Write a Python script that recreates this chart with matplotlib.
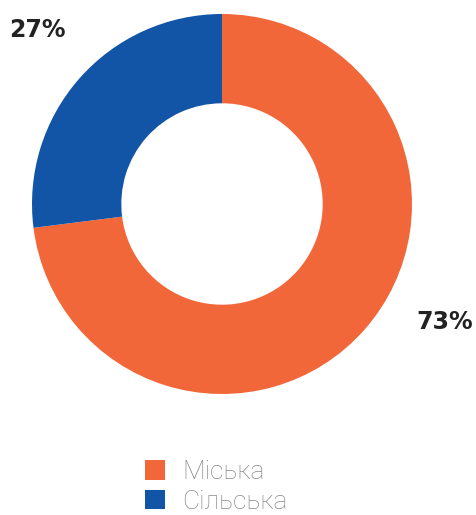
import matplotlib.pyplot as plt
from matplotlib.patches import Patch

labels = ["Міська", "Сільська"]
values = [73, 27]
colors = ["#F26739", "#1254A5"]

fig = plt.figure(figsize=(4.77, 5.15), dpi=100)
# axes placed so the ring sits where it is in the original
ax = fig.add_axes([32 / 477, 1 - 394 / 515, 380 / 477, 380 / 515])
ax.pie(values, colors=colors, startangle=90, counterclock=False,
       radius=1.0, wedgeprops=dict(width=0.47, edgecolor="none"))
ax.set_xlim(-1, 1)
ax.set_ylim(-1, 1)
ax.set_aspect("equal")
ax.axis("off")

# percent labels
ax.text(-0.97, 0.915, f"{values[1]}%", ha="center", va="center",
        fontsize=17, fontweight="bold", color="#222222", clip_on=False)
ax.text(1.17, -0.62, f"{values[0]}%", ha="center", va="center",
        fontsize=17, fontweight="bold", color="#222222", clip_on=False)

handles = [Patch(facecolor=c, edgecolor="none") for c in colors]
leg = fig.legend(handles, labels, loc="center left",
                 bbox_to_anchor=(127 / 477, 1 - 487 / 515),
                 frameon=False, fontsize=19, handlelength=0.75, handleheight=0.75,
                 handletextpad=0.65, labelspacing=0.2, borderpad=0.2)
for t in leg.get_texts():
    t.set_color("#8a8a8a")
    t.set_fontfamily("Roboto")
    t.set_fontweight("light")

fig.savefig("out.png", dpi=100)
